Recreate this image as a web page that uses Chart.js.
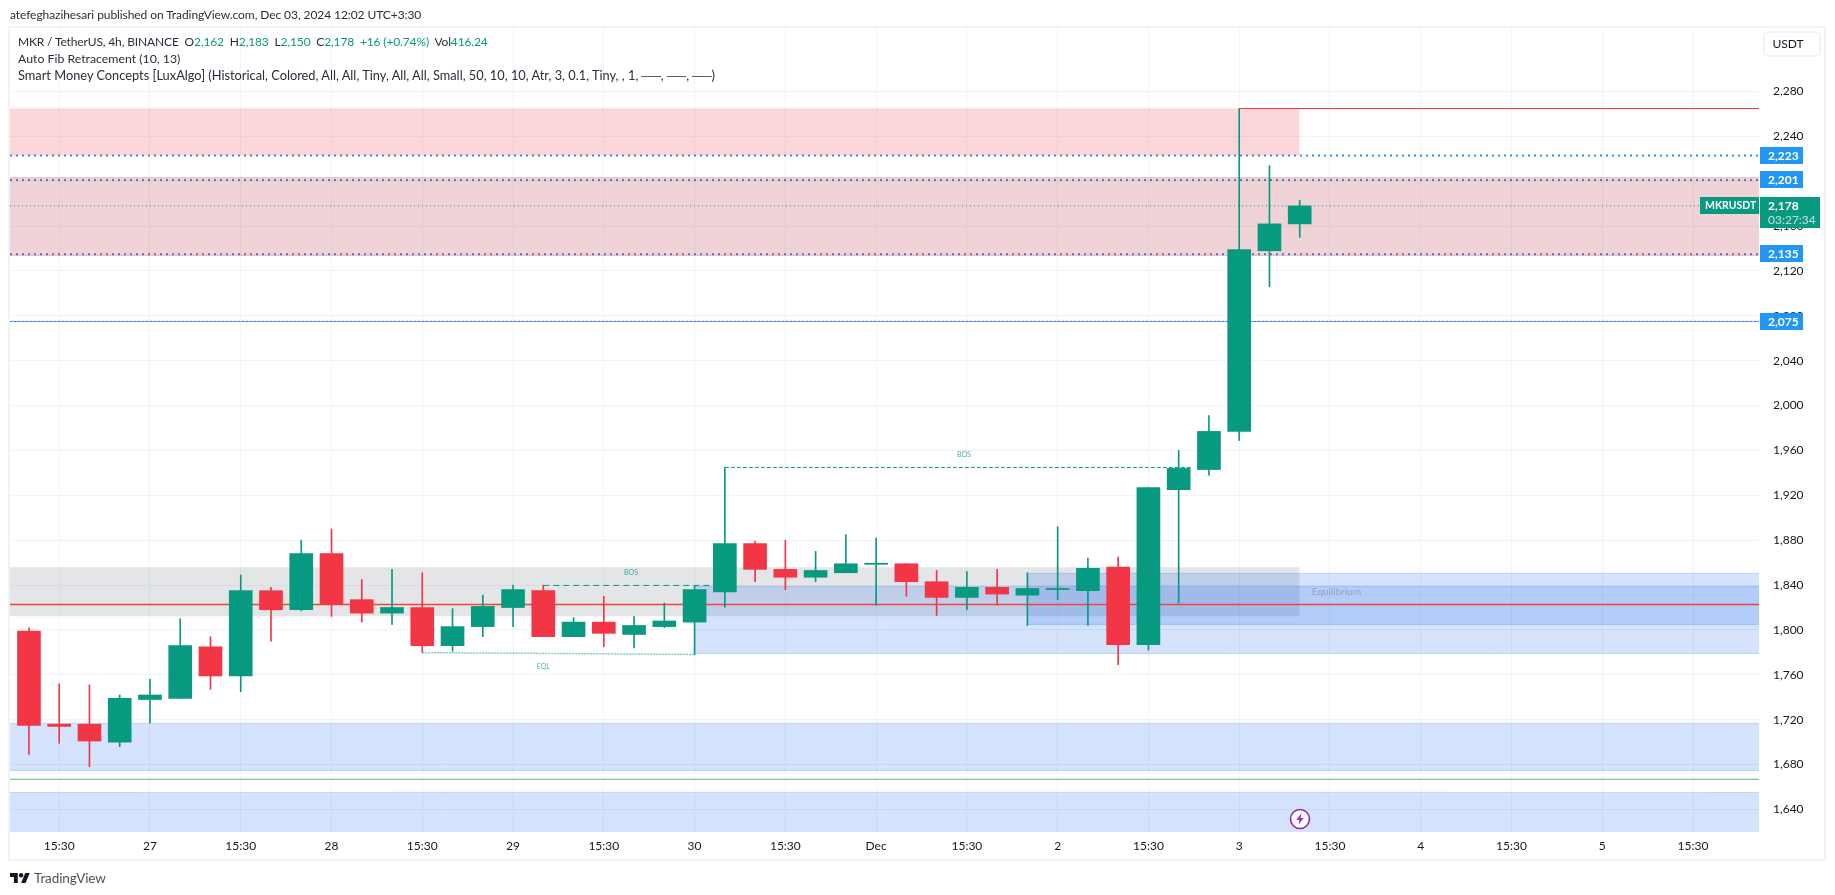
<!DOCTYPE html>
<html>
<head>
<meta charset="utf-8">
<title>MKR / TetherUS</title>
<script src="https://cdn.jsdelivr.net/npm/chart.js@4"></script>
<style>
  html, body { margin: 0; padding: 0; background: #fff; width: 1835px; height: 895px; overflow: hidden; }
  body { font-family: Lato, sans-serif; color: #131722; position: relative; }
  canvas { position: absolute; left: 0; top: 0; }
  .abs { position: absolute; white-space: pre; }
  #frame { left: 8px; top: 26px; width: 1814px; height: 831px; border: 2px solid #f0f3fa; }
  #published { left: 10px; top: 6px; font-size: 12px; letter-spacing: -0.08px; line-height: 18px; color: #2a2e39; }
  .legend { left: 18px; line-height: 17px; color: #2a2e39; }
  .legend b { font-weight: 400; color: #089981; }
  #legendTop { top: 33px; font-size: 12px; letter-spacing: -0.14px; }
  #legendFib { top: 50px; font-size: 12.3px; }
  #legendSmc { top: 67px; font-size: 12.8px; }
  #currency { left: 1763px; top: 31px; width: 54px; height: 22px; border: 2px solid #f0f3fa; border-radius: 5px;
              font-size: 12px; line-height: 22px; text-align: center; text-indent: -8px; }
  #logo { left: 10px; top: 873px; }
  #brand { left: 34px; top: 868px; font-size: 13.5px; letter-spacing: -0.1px; line-height: 20px; color: #4c525e; }
  #bolt { left: 1289px; top: 808px; }
</style>
</head>
<body>
<canvas id="chart" width="1835" height="895"></canvas>
<div class="abs" id="frame"></div>
<div class="abs" id="published">atefeghazihesari published on TradingView.com, Dec 03, 2024 12:02 UTC+3:30</div>
<div class="abs legend" id="legendTop">MKR / TetherUS, 4h, BINANCE  O<b>2,162</b>  H<b>2,183</b>  L<b>2,150</b>  C<b>2,178</b>  <b>+16 (+0.74%)</b>  Vol<b>416.24</b></div>
<div class="abs legend" id="legendFib">Auto Fib Retracement (10, 13)</div>
<div class="abs legend" id="legendSmc">Smart Money Concepts [LuxAlgo] (Historical, Colored, All, All, Tiny, All, All, Small, 50, 10, 10, Atr, 3, 0.1, Tiny, , 1, ──, ──, ──)</div>
<div class="abs" id="currency">USDT</div>
<svg class="abs" id="bolt" width="22" height="22" viewBox="0 0 22 22">
  <circle cx="11" cy="11" r="9.5" fill="#fff" stroke="#9c27b0" stroke-width="1.6"/>
  <path d="M12.5 5 L7.5 12 H10.5 L9.5 17 L14.5 10 H11.5 Z" fill="#9c27b0"/>
</svg>
<svg class="abs" id="logo" width="20" height="10" viewBox="0 4 36 18">
  <path fill="#131722" d="M14 22H7V11H0V4h14v18zM28 22h-8l7.5-18h8L28 22z"/>
  <circle fill="#131722" cx="20" cy="8" r="4"/>
</svg>
<div class="abs" id="brand">TradingView</div>

<script>
/* ---- Candles (4h bars) ---- */
const opens  = [1799,1716,1716,1700,1738,1739,1785,1759,1835,1818,1868,1827,1815,1820,1786,1803,1820,1835,1794,1807,1796,1803,1807,1834,1877,1854,1847,1851,1858.5,1859,1843,1829,1838,1831,1836,1835,1856,1787,1925,1943,1977,2138,2162];
const highs  = [1802,1752,1751,1742,1756,1810,1794,1849,1838,1880,1890,1845,1854,1851,1819,1831,1840,1840,1811,1830,1812,1824,1839,1945,1879,1880,1870,1885,1882,1859,1853,1852,1854,1851,1892,1864,1865,1927,1960,1991,2265,2214,2183];
const lows   = [1689,1699,1678,1696,1717,1739,1747,1745,1790,1817,1812,1807,1805,1780,1781,1794,1803,1794,1794,1785,1784,1802,1778,1820,1843,1836,1843,1851,1822,1830,1813,1818,1822,1804,1827,1804,1769,1782,1824,1938,1969,2106,2150];
const closes = [1715,1714,1701,1739,1742,1786,1759,1835,1818,1868,1823,1815,1820,1786,1803,1821,1836,1794,1807,1797,1804,1808,1836,1877,1854,1847,1853,1859,1859.5,1843,1829,1838,1832,1837,1837,1855,1787,1927,1944,1977,2139,2162,2178];

/* ---- Axes ---- */
const xMin = -0.626;
const xMax = 57.18;
const yMin = 1619.9;
const yMax = 2336.6;
const xTickBars   = [1,4,7,10,13,16,19,22,25,28,31,34,37,40,43,46,49,52,55];
const xTickLabels = ['15:30','27','15:30','28','15:30','29','15:30','30','15:30','Dec','15:30','2','15:30','3','15:30','4','15:30','5','15:30'];
const yTicks      = [1640,1680,1720,1760,1800,1840,1880,1920,1960,2000,2040,2080,2120,2160,2200,2240,2280];

/* ---- Zones and levels, in bar / price units ---- */
const supplyTop     = [xMin, 42, 2264.8, 2223];
const supplyRight   = [xMin, xMax, 2203.3, 2133.8];
const equilibrium   = [xMin, 42, 1855.8, 1812.2];
const demandUpper   = [22, xMax, 1838.8, 1779.1];
const demandInner   = [33, xMax, 1850.4, 1804.9];
const demandLower   = [xMin, xMax, 1716.7, 1674.8];
const demandBottom  = [xMin, xMax, 1655.2, yMin];
const fibLevels     = [2223, 2201, 2135];
const fibLowLevel   = 2075;
const lastPrice     = 2178;
const greenLevel    = 1666.8;
const redLevel      = 1822.7;
const strongHigh    = [40, xMax, 2264.85];
const bosFirst      = [17, 22.56, 1839.7];
const bosSecond     = [23, 38.4, 1944.9];
const eqlLine       = [13, 22, 1779.8, 1778.2];

const UP   = '#089981';
const DOWN = '#f23645';
const BLUE = '#2196f3';

const isUp = i => closes[i] >= opens[i];
const candleColors = opens.map((_, i) => isUp(i) ? UP : DOWN);

function lineSet(x0, x1, y0, y1, color, width, dash, order) {
  return {
    type: 'line',
    data: [{ x: x0, y: y0 }, { x: x1, y: y1 }],
    borderColor: color,
    borderWidth: width,
    borderDash: dash || [],
    pointRadius: 0,
    fill: false,
    order,
  };
}

function zoneSet(range, fillColor, order) {
  const [x0, x1, hi, lo] = range;
  return {
    type: 'line',
    data: [{ x: x0, y: hi }, { x: x1, y: hi }],
    borderWidth: 0,
    backgroundColor: fillColor,
    pointRadius: 0,
    fill: { value: lo },
    order,
  };
}

const PINK = 'rgba(242,54,69,0.2)';
const ROSE = 'rgba(175,35,50,0.2)';
const GREY = 'rgba(120,123,134,0.2)';
const ZONE = 'rgba(22,99,238,0.18)';
const EDGE = 'rgba(41,120,240,0.25)';

const datasets = [
  /* body and wick are floating bars on the linear bar axis */
  {
    type: 'bar',
    data: opens.map((o, i) => ({ x: i, y: [o, closes[i]] })),
    backgroundColor: candleColors,
    barThickness: 23,
    grouped: false,
    order: 1,
  },
  {
    type: 'bar',
    data: opens.map((_, i) => ({ x: i, y: [lows[i], highs[i]] })),
    backgroundColor: candleColors,
    barThickness: 1,
    grouped: false,
    order: 2,
  },
  /* levels over the zones */
  lineSet(xMin, xMax, redLevel, redLevel, '#f44336', 1.4, null, 3),
  lineSet(strongHigh[0], strongHigh[1], strongHigh[2], strongHigh[2], '#f23645', 1.2, null, 3),
  lineSet(xMin, xMax, greenLevel, greenLevel, '#8cc08c', 1.2, null, 3),
  lineSet(xMin, xMax, lastPrice, lastPrice, UP, 1, [1, 3], 3),
  lineSet(bosFirst[0], bosFirst[1], bosFirst[2], bosFirst[2], UP, 1, [6, 4], 3),
  lineSet(bosSecond[0], bosSecond[1], bosSecond[2], bosSecond[2], UP, 1, [4, 2], 3),
  lineSet(eqlLine[0], eqlLine[1], eqlLine[2], eqlLine[3], 'rgba(8,153,129,0.5)', 1.5, [2, 1], 3),
  /* zones */
  zoneSet(demandInner, ZONE, 5),
  zoneSet(demandUpper, ZONE, 5),
  zoneSet(demandLower, ZONE, 5),
  zoneSet(demandBottom, ZONE, 5),
  zoneSet(equilibrium, GREY, 5),
  zoneSet(supplyTop, PINK, 5),
  zoneSet(supplyRight, ROSE, 5),
  lineSet(xMin, xMax, supplyRight[2], supplyRight[2], 'rgba(242,54,69,0.25)', 1, null, 4),
  lineSet(xMin, xMax, supplyRight[3], supplyRight[3], 'rgba(242,54,69,0.25)', 1, null, 4),
  lineSet(demandUpper[0], xMax, demandUpper[2], demandUpper[2], EDGE, 1, null, 4),
  lineSet(demandUpper[0], xMax, demandUpper[3], demandUpper[3], EDGE, 1, null, 4),
  lineSet(demandInner[0], xMax, demandInner[2], demandInner[2], EDGE, 1, null, 4),
  lineSet(demandInner[0], xMax, demandInner[3], demandInner[3], EDGE, 1, null, 4),
  lineSet(xMin, xMax, demandLower[2], demandLower[2], EDGE, 1, null, 4),
  lineSet(xMin, xMax, demandLower[3], demandLower[3], EDGE, 1, null, 4),
  lineSet(xMin, xMax, demandBottom[2], demandBottom[2], EDGE, 1, null, 4),
  /* fib levels sit under the zones */
  ...fibLevels.map(v => lineSet(xMin, xMax, v, v, BLUE, 2, [2, 4], 6)),
  lineSet(xMin, xMax, fibLowLevel, fibLowLevel, 'rgba(41,98,255,0.55)', 1, null, 6),
  lineSet(xMin, xMax, fibLowLevel, fibLowLevel, BLUE, 1, [2, 2], 6),
];

/* ---- Price tags and small chart labels ---- */
const chartNotes = {
  id: 'chartNotes',
  afterDraw(chart) {
    const { ctx, scales: { x, y } } = chart;
    ctx.save();
    ctx.textBaseline = 'middle';

    const note = (text, bar, price, color, size, align) => {
      ctx.font = `${size}px Lato, sans-serif`;
      ctx.fillStyle = color;
      ctx.textAlign = align || 'center';
      ctx.fillText(text, x.getPixelForValue(bar), y.getPixelForValue(price));
    };
    note('BOS', 19.9, 1850.8, 'rgba(8,153,129,0.75)', 7);
    note('BOS', 30.9, 1956.3, 'rgba(8,153,129,0.75)', 7);
    note('EQL', 17, 1767, 'rgba(8,153,129,0.75)', 7);
    note('Equilibrium', 42.4, 1833.8, 'rgba(120,123,134,0.55)', 10, 'left');

    const tag = (text, price) => {
      const py = Math.floor(y.getPixelForValue(price) - 0.2);
      ctx.fillStyle = BLUE;
      ctx.fillRect(1760, py - 8, 43, 17);
      ctx.font = '700 12px Lato, sans-serif';
      ctx.fillStyle = '#fff';
      ctx.textAlign = 'left';
      ctx.fillText(text, 1768, py + 1);
    };
    fibLevels.forEach(v => tag(v.toLocaleString('en-US'), v));
    tag(fibLowLevel.toLocaleString('en-US'), fibLowLevel);

    const py = Math.round(y.getPixelForValue(lastPrice));
    ctx.fillStyle = UP;
    ctx.fillRect(1700, py - 9, 59, 17);
    ctx.fillRect(1760, py - 9, 60, 31);
    ctx.font = '700 10.5px Lato, sans-serif';
    ctx.fillStyle = '#fff';
    ctx.textAlign = 'left';
    ctx.fillText('MKRUSDT', 1705, py);
    ctx.font = '700 12px Lato, sans-serif';
    ctx.fillText(lastPrice.toLocaleString('en-US'), 1768, py);
    ctx.font = '12px Lato, sans-serif';
    ctx.fillStyle = 'rgba(255,255,255,0.75)';
    ctx.fillText('03:27:34', 1768, py + 14);
    ctx.restore();
  },
};

new Chart(document.getElementById('chart'), {
  data: { datasets },
  plugins: [chartNotes],
  options: {
    responsive: false,
    animation: false,
    devicePixelRatio: 1,
    layout: { padding: { left: 10, top: 28, right: 0, bottom: 0 } },
    plugins: { legend: { display: false }, tooltip: { enabled: false } },
    scales: {
      x: {
        type: 'linear',
        min: xMin,
        max: xMax,
        offset: false,
        afterBuildTicks: s => { s.ticks = xTickBars.map(value => ({ value })); },
        afterFit: s => { s.height = 63; },
        grid: { color: '#f0f3fa', offset: false, drawTicks: false },
        border: { display: false },
        ticks: {
          autoSkip: false,
          maxRotation: 0,
          padding: 7,
          color: '#131722',
          font: { size: 12, family: 'Lato, sans-serif' },
          callback: v => xTickLabels[xTickBars.indexOf(v)],
        },
      },
      y: {
        type: 'linear',
        position: 'right',
        min: yMin,
        max: yMax,
        afterBuildTicks: s => { s.ticks = yTicks.map(value => ({ value })); },
        afterFit: s => { s.width = 76; },
        grid: { color: '#f0f3fa', drawTicks: false },
        border: { display: false },
        ticks: {
          autoSkip: false,
          padding: 14,
          color: '#131722',
          font: { size: 12, family: 'Lato, sans-serif' },
          callback: v => v.toLocaleString('en-US'),
        },
      },
    },
  },
});
</script>
</body>
</html>
